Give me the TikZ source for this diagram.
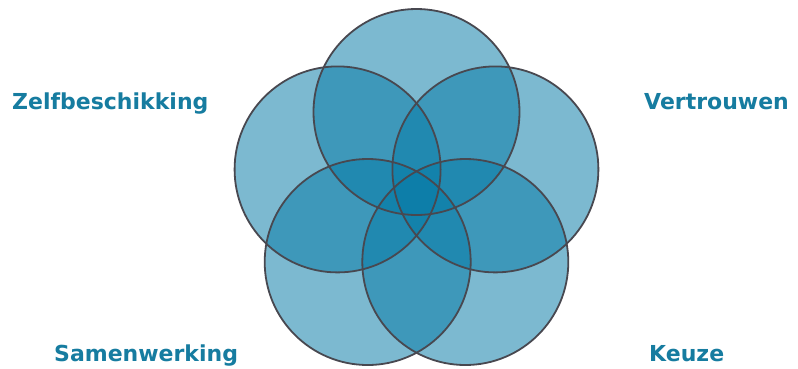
\documentclass[tikz,border=0pt]{standalone}
\usepackage{fontspec}
\setmainfont{DejaVu Sans}
\definecolor{kreisblau}{RGB}{8,124,168}
\definecolor{textblau}{RGB}{22,124,160}
\definecolor{randgrau}{RGB}{72,72,80}
\tikzset{
  kreis/.style={fill=kreisblau, fill opacity=0.53, draw=none},
  rand/.style={draw=randgrau, line width=1.8pt},
  wert/.style={anchor=base west, inner sep=0pt, text=textblau, font=\bfseries\fontsize{22}{26}\selectfont}
}
\begin{document}
\begin{tikzpicture}[x=1pt, y=-1pt]
		% Rahmen
		\useasboundingbox[fill=white] (0,0) rectangle (798,368);
		
		% Kreise (Fuellung)
		\fill[kreis] (416.5,112) circle (103);
		\fill[kreis] (337.6,169.4) circle (103);
		\fill[kreis] (495.4,169.4) circle (103);
		\fill[kreis] (367.7,262) circle (103);
		\fill[kreis] (465.3,262) circle (103);
		
		% Kreise (Rand)
		\draw[rand] (416.5,112) circle (103);
		\draw[rand] (337.6,169.4) circle (103);
		\draw[rand] (495.4,169.4) circle (103);
		\draw[rand] (367.7,262) circle (103);
		\draw[rand] (465.3,262) circle (103);
		
		% Beschriftung
		\node[wert] (zelf) at (12,109) {Zelfbeschikking};
		\node[wert] (vertr) at (644,109) {Vertrouwen};
		\node[wert] (samen) at (54,361) {Samenwerking};
		\node[wert] (keuze) at (649,361) {Keuze};
	\end{tikzpicture}
\end{document}
